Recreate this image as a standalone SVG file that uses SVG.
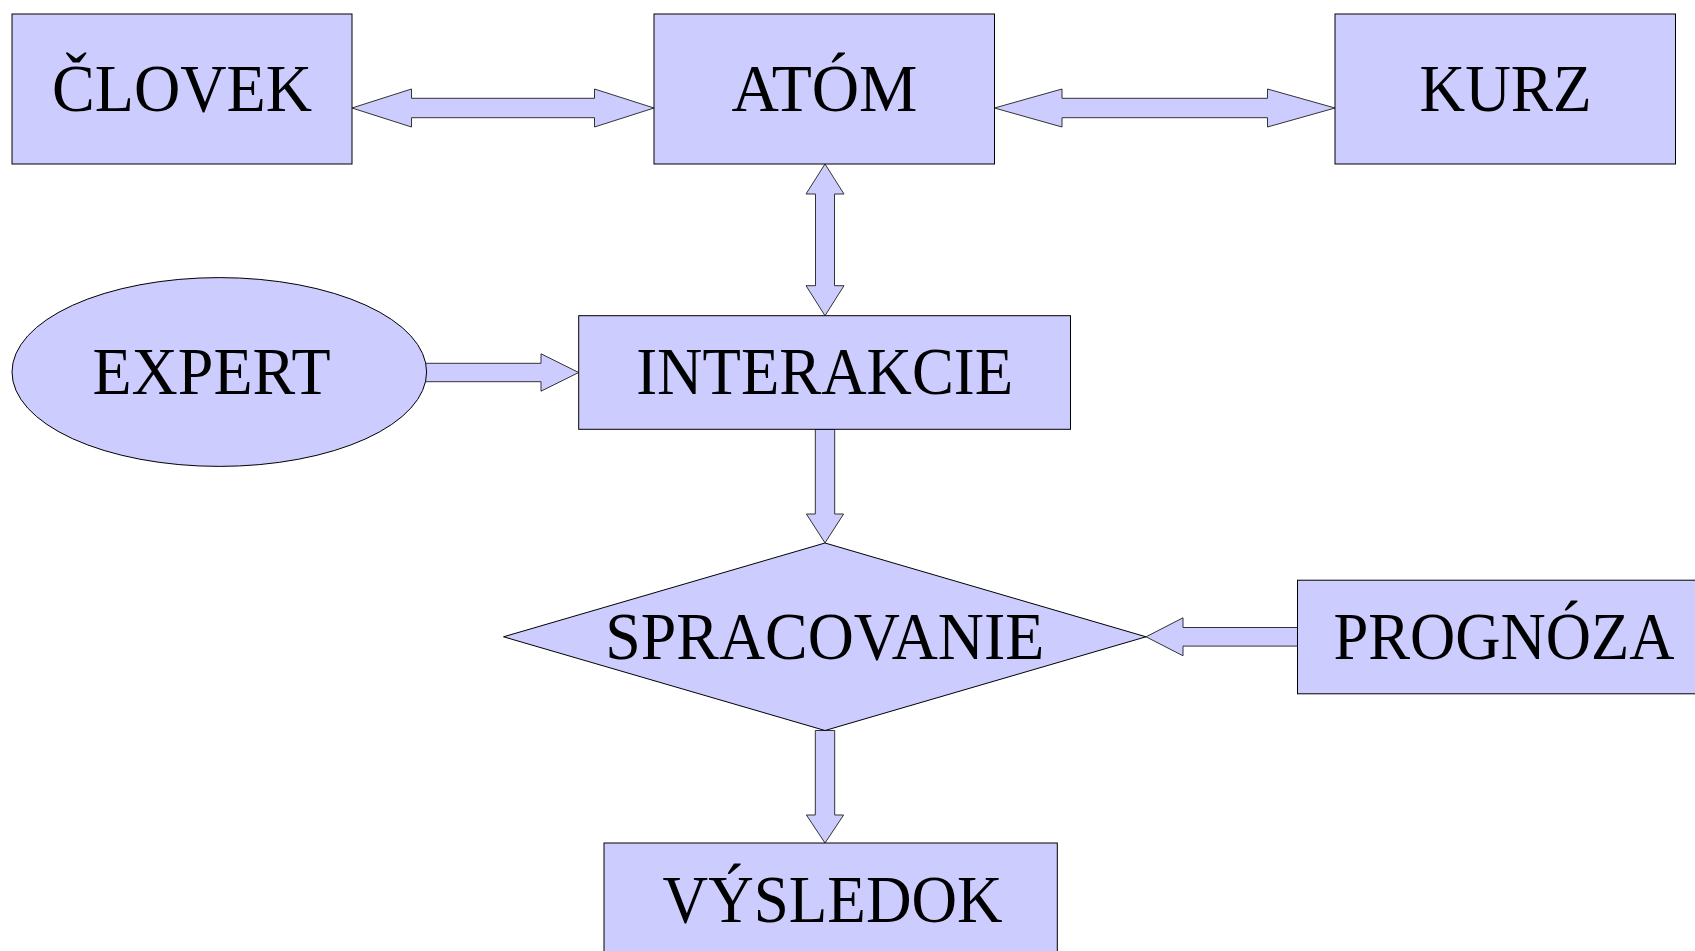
<svg xmlns="http://www.w3.org/2000/svg" width="1695" height="951" viewBox="0 0 1695 951">
<style>
.n{fill:#ccccff;stroke:#000;stroke-width:1}
.a{fill:#ccccff;stroke:#333;stroke-width:1;stroke-linejoin:miter}
.t{font-family:"Liberation Serif","Times New Roman",serif;font-size:67px;fill:#000;text-anchor:middle}
</style>
<rect width="1695" height="951" fill="#fff"/>
<g id="connectors">
<polygon class="a" points="352,108 411.5,89 411.5,98.3 594.5,98.3 594.5,89 654,108 594.5,127 594.5,117.7 411.5,117.7 411.5,127"/>
<polygon class="a" points="994.5,108 1062,89 1062,98.3 1267.5,98.3 1267.5,89 1335,108 1267.5,127 1267.5,117.7 1062,117.7 1062,127"/>
<polygon class="a" points="825,164 844,194 834.5,194 834.5,285.7 844,285.7 825,315.7 806,285.7 815.5,285.7 815.5,194 806,194"/>
<polygon class="a" points="420,363.3 541,363.3 541,353.8 578.7,372.5 541,391.2 541,381.7 420,381.7"/>
<polygon class="a" points="815.3,429.3 834.7,429.3 834.7,514 843.6,514 825,542.9 806.4,514 815.3,514"/>
<polygon class="a" points="815.3,730.5 834.7,730.5 834.7,815 843.6,815 825,843 806.4,815 815.3,815"/>
<polygon class="a" points="1297.5,627.5 1183,627.5 1183,617.8 1146,636.8 1183,655.8 1183,646.1 1297.5,646.1"/>
</g>
<g id="clovek">
<rect class="n" x="12" y="14" width="340" height="150"/>
<text class="t" x="182" y="111.3" textLength="260" lengthAdjust="spacingAndGlyphs">ČLOVEK</text>
</g>
<g id="atom">
<rect class="n" x="654" y="14" width="340.5" height="150"/>
<text class="t" x="824.5" y="111.3" textLength="186" lengthAdjust="spacingAndGlyphs">ATÓM</text>
</g>
<g id="kurz">
<rect class="n" x="1335" y="14" width="340.5" height="150"/>
<text class="t" x="1505.5" y="111.3" textLength="172" lengthAdjust="spacingAndGlyphs">KURZ</text>
</g>
<g id="expert">
<ellipse class="n" cx="219.3" cy="372" rx="207.3" ry="94.4"/>
<text class="t" x="211.5" y="394" textLength="238" lengthAdjust="spacingAndGlyphs">EXPERT</text>
</g>
<g id="interakcie">
<rect class="n" x="578.7" y="315.7" width="491.8" height="113.6"/>
<text class="t" x="824.7" y="394" textLength="377" lengthAdjust="spacingAndGlyphs">INTERAKCIE</text>
</g>
<g id="spracovanie">
<polygon class="n" points="503.5,636.8 825,543 1146,636.8 825,730.5"/>
<text class="t" x="824.8" y="659" textLength="439" lengthAdjust="spacingAndGlyphs">SPRACOVANIE</text>
</g>
<g id="prognoza">
<rect class="n" x="1297.5" y="580.2" width="415" height="113.6"/>
<text class="t" x="1504" y="659" textLength="341" lengthAdjust="spacingAndGlyphs">PROGNÓZA</text>
</g>
<g id="vysledok">
<rect class="n" x="604" y="843" width="453.3" height="113.6"/>
<text class="t" x="832.6" y="921.7" textLength="340" lengthAdjust="spacingAndGlyphs">VÝSLEDOK</text>
</g>
</svg>
